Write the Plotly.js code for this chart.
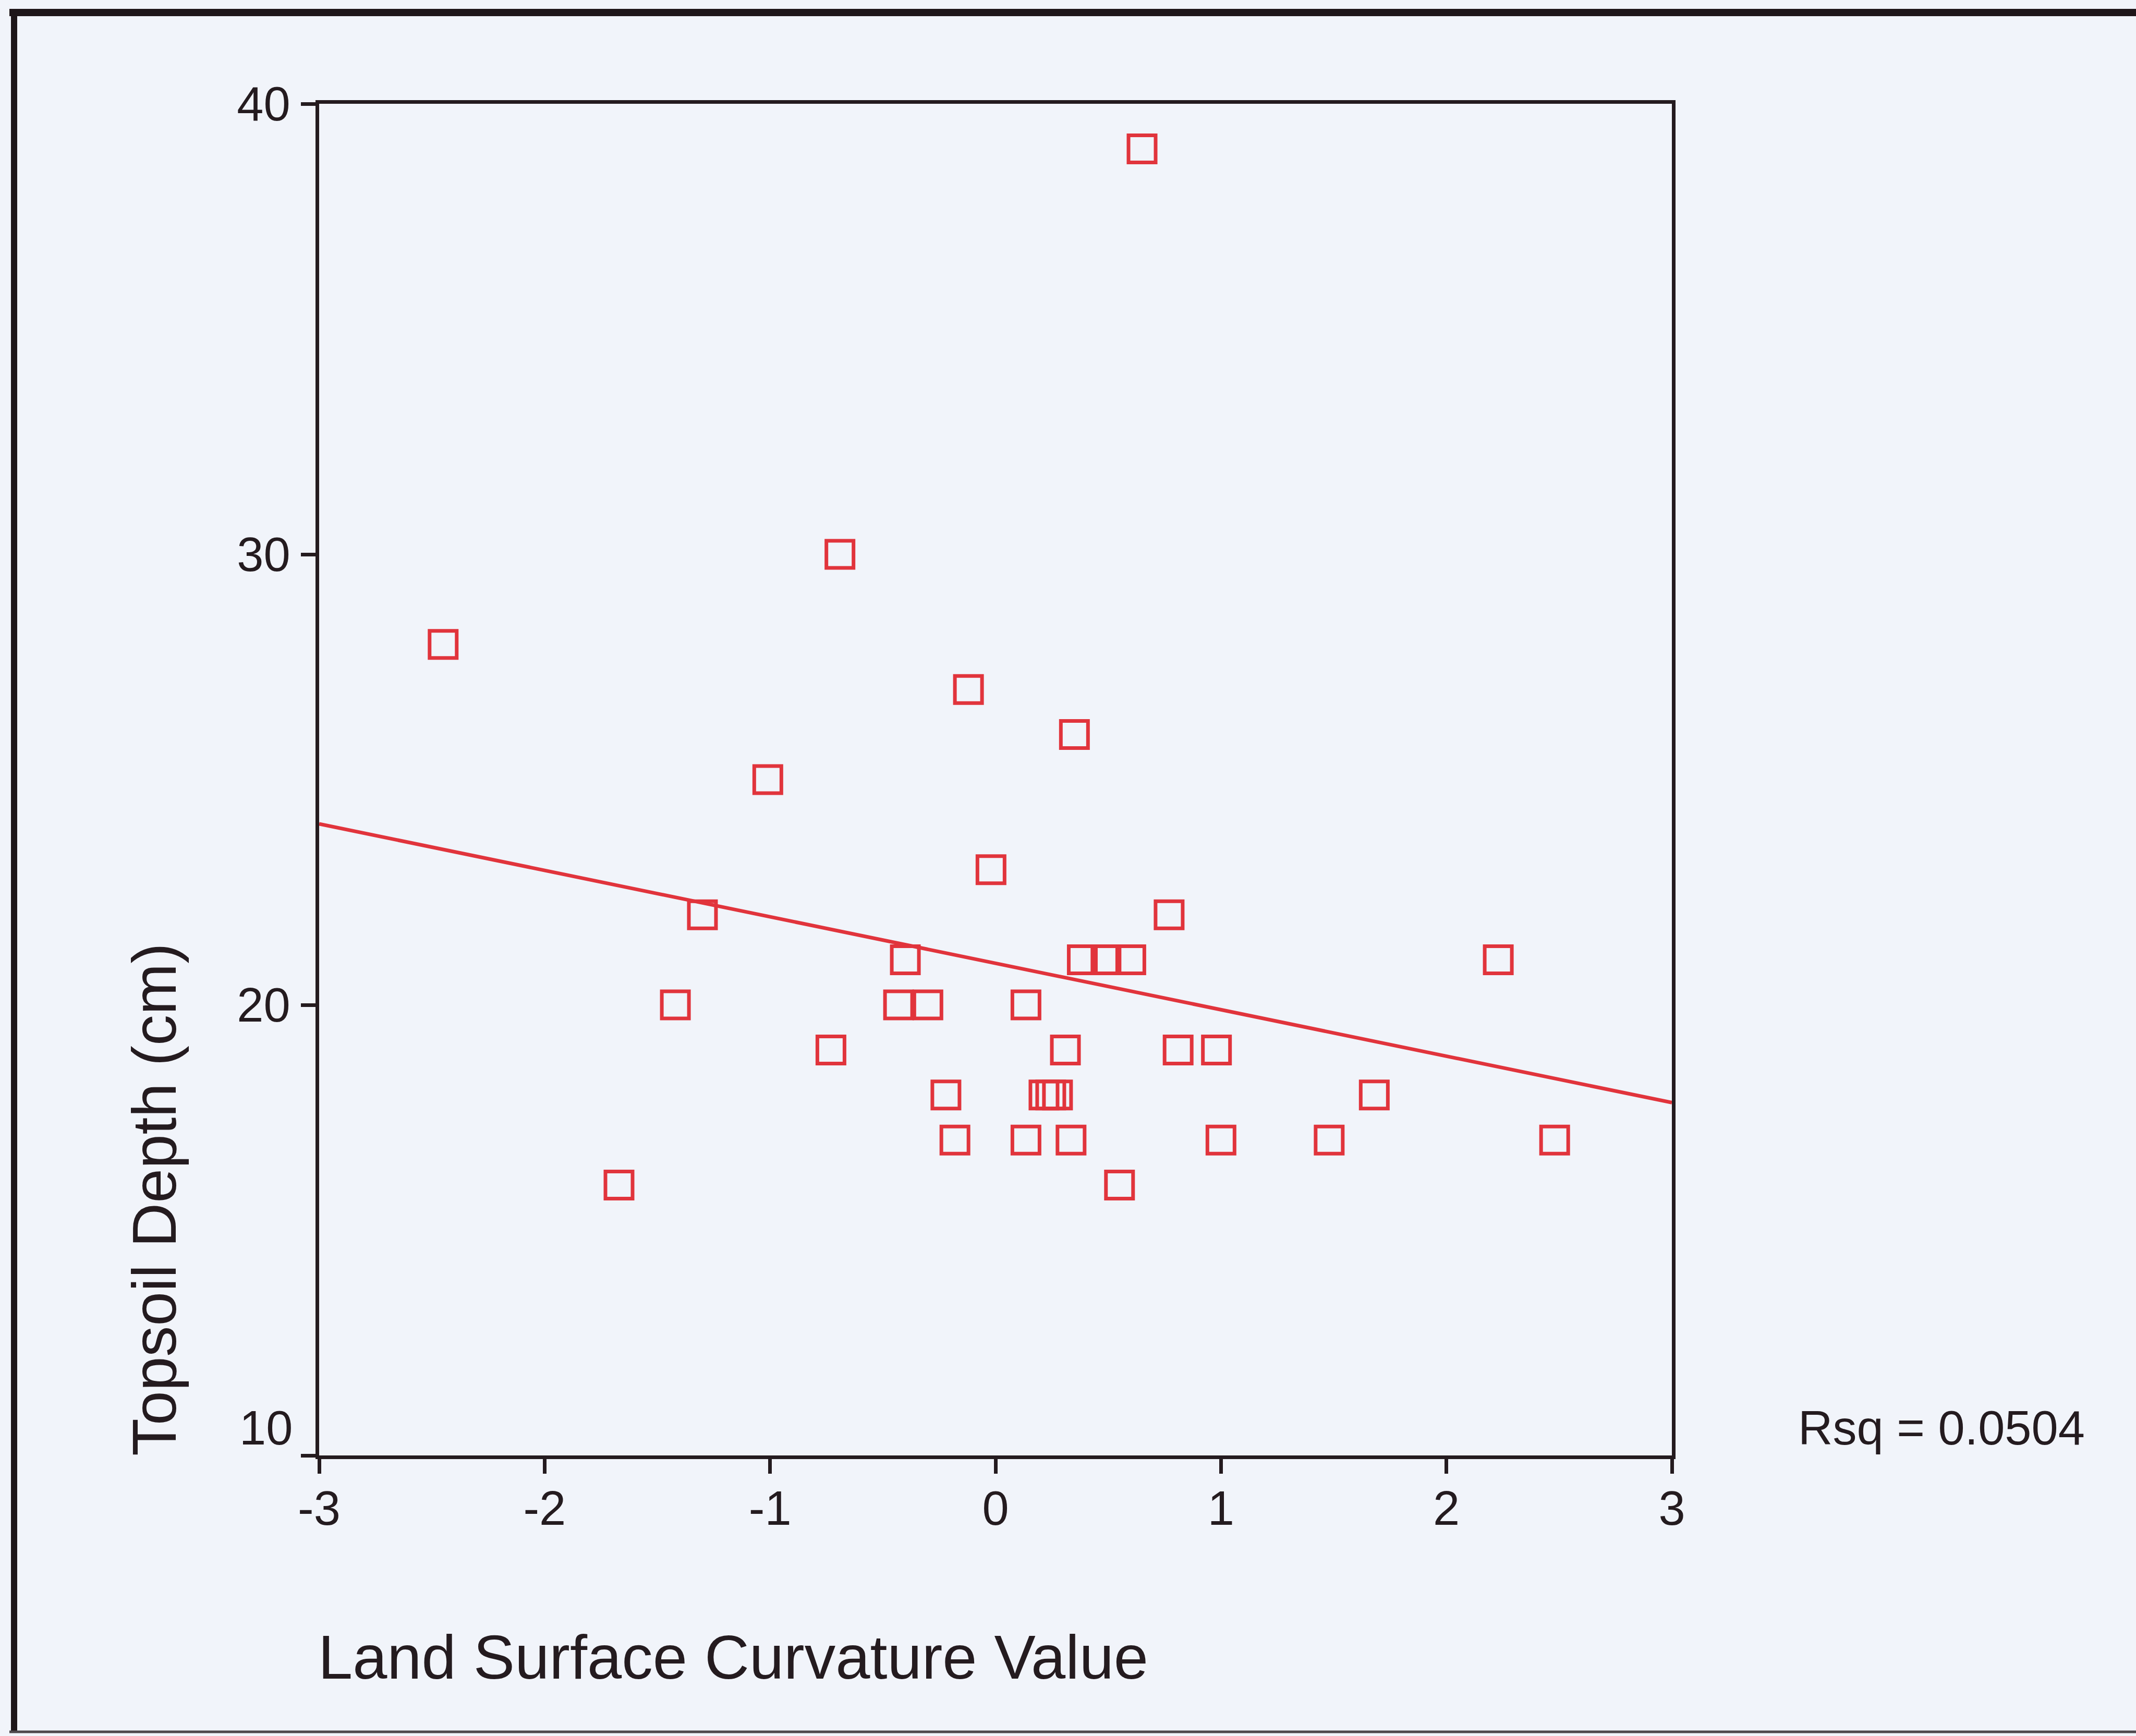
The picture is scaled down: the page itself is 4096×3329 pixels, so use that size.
<!DOCTYPE html>
<html>
<head>
<meta charset="utf-8">
<script src="https://cdn.plot.ly/plotly-3.0.1.min.js"></script>
<style>
  html, body { margin: 0; padding: 0; background: #f1f4fa; }
  #chart { width: 4096px; height: 3329px; }
</style>
</head>
<body>
<div id="chart"></div>
<script>
// Sample sites: land surface curvature vs. topsoil depth
const curvature = [
  -2.45, -0.69, 0.65, -0.12, 0.35, -1.01, -0.02, -1.30, 0.77,
  -0.40, 0.385, 0.49, 0.60, 2.23,
  -1.42, -0.43, -0.30, 0.135,
  -0.73, 0.31, 0.81, 0.98,
  -0.22, 0.215, 0.245, 0.275, 1.68,
  -0.18, 0.135, 0.335, 1.00, 1.48, 2.48,
  -1.67, 0.55
];
const depthCm = [
  28, 30, 39, 27, 26, 25, 23, 22, 22,
  21, 21, 21, 21, 21,
  20, 20, 20, 20,
  19, 19, 19, 19,
  18, 18, 18, 18, 18,
  17, 17, 17, 17, 17, 17,
  16, 16
];

const xTickVals = [-3, -2, -1, 0, 1, 2, 3];
const xTickText = ['-3', '-2', '-1', '0', '1', '2', '3'];
const yTickVals = [10, 20, 30, 40];
const yTickText = ['10', '20', '30', '40'];

const xTitle = 'Land Surface Curvature Value';
const yTitle = 'Topsoil Depth (cm)';
const rsqLabel = 'Rsq = 0.0504';

// Ordinary least-squares line through the points
function linearFit(xs, ys) {
  const n = xs.length;
  const mx = xs.reduce((a, b) => a + b, 0) / n;
  const my = ys.reduce((a, b) => a + b, 0) / n;
  let sxy = 0, sxx = 0;
  for (let i = 0; i < n; i++) {
    sxy += (xs[i] - mx) * (ys[i] - my);
    sxx += (xs[i] - mx) * (xs[i] - mx);
  }
  const slope = sxy / sxx;
  return { slope: slope, intercept: my - slope * mx };
}
const fit = linearFit(curvature, depthCm);
const fitX = [xTickVals[0], xTickVals[xTickVals.length - 1]];
const fitY = fitX.map(x => fit.intercept + fit.slope * x);

// Page geometry
const W = 4096, H = 3329;
const M = { l: 612, r: 890, t: 199, b: 538 };
const PW = W - M.l - M.r, PH = H - M.t - M.b;
const px = X => (X - M.l) / PW;           // page x -> paper x
const py = Y => (H - M.b - Y) / PH;       // page y -> paper y

const FONT = '"Liberation Sans", Arial, Helvetica, sans-serif';
const INK = '#241b1f';
const RED = '#e1343c';
const BG = '#f1f4fa';

const traces = [
  {
    type: 'scatter', mode: 'lines',
    x: fitX, y: fitY,
    line: { color: RED, width: 7 },
    hoverinfo: 'skip', showlegend: false
  },
  {
    type: 'scatter', mode: 'markers',
    x: curvature, y: depthCm,
    marker: {
      symbol: 'square-open', size: 52, color: RED,
      line: { color: RED, width: 7 }
    },
    showlegend: false
  }
];

const layout = {
  width: W, height: H,
  margin: M,
  paper_bgcolor: BG,
  plot_bgcolor: BG,
  font: { family: FONT, color: INK, size: 92 },
  showlegend: false,
  xaxis: {
    range: [-3, 3], tickvals: xTickVals, ticktext: xTickText,
    showgrid: false, zeroline: false,
    showline: true, linecolor: INK, linewidth: 7, mirror: true,
    ticks: 'outside', ticklen: 28, tickwidth: 7, tickcolor: INK,
    tickfont: { family: FONT, size: 92, color: INK },
    ticklabelstandoff: -12
  },
  yaxis: {
    range: [10, 40], tickvals: yTickVals,
    ticktext: yTickText.map((t, i) => (i === 0 ? '' : t)),
    showgrid: false, zeroline: false,
    showline: true, linecolor: INK, linewidth: 7, mirror: true,
    ticks: 'outside', ticklen: 28, tickwidth: 7, tickcolor: INK,
    tickfont: { family: FONT, size: 92, color: INK },
    ticklabelstandoff: 2
  },
  annotations: [
    // lowest y label sits just above the x axis
    {
      xref: 'paper', yref: 'y', x: px(563), y: yTickVals[0],
      xanchor: 'right', yanchor: 'bottom', showarrow: false,
      text: yTickText[0], font: { family: FONT, size: 92, color: INK }
    },
    {
      xref: 'paper', yref: 'paper', x: px(3446), y: py(2791),
      xanchor: 'left', yanchor: 'bottom', showarrow: false,
      text: rsqLabel, font: { family: FONT, size: 92, color: INK }
    },
    {
      xref: 'paper', yref: 'paper', x: px(608), y: py(3177),
      xanchor: 'left', yanchor: 'middle', showarrow: false,
      text: xTitle, font: { family: FONT, size: 119, color: INK }
    },
    {
      xref: 'paper', yref: 'paper', x: px(296), y: py(2300),
      xanchor: 'center', yanchor: 'middle', showarrow: false, textangle: -90,
      text: yTitle, font: { family: FONT, size: 118, color: INK }
    }
  ],
  shapes: [
    // page frame: heavy top and left rules, light bottom rule
    {
      type: 'line', xref: 'paper', yref: 'paper',
      x0: px(18), x1: px(W), y0: py(24), y1: py(24),
      line: { color: '#1e1619', width: 14 }
    },
    {
      type: 'line', xref: 'paper', yref: 'paper',
      x0: px(27), x1: px(27), y0: py(17), y1: py(3322),
      line: { color: '#1e1619', width: 12 }
    },
    {
      type: 'line', xref: 'paper', yref: 'paper',
      x0: px(18), x1: px(W), y0: py(3321), y1: py(3321),
      line: { color: '#4e484c', width: 5 }
    }
  ]
};

Plotly.newPlot('chart', traces, layout, { staticPlot: true, displayModeBar: false });
</script>
</body>
</html>
